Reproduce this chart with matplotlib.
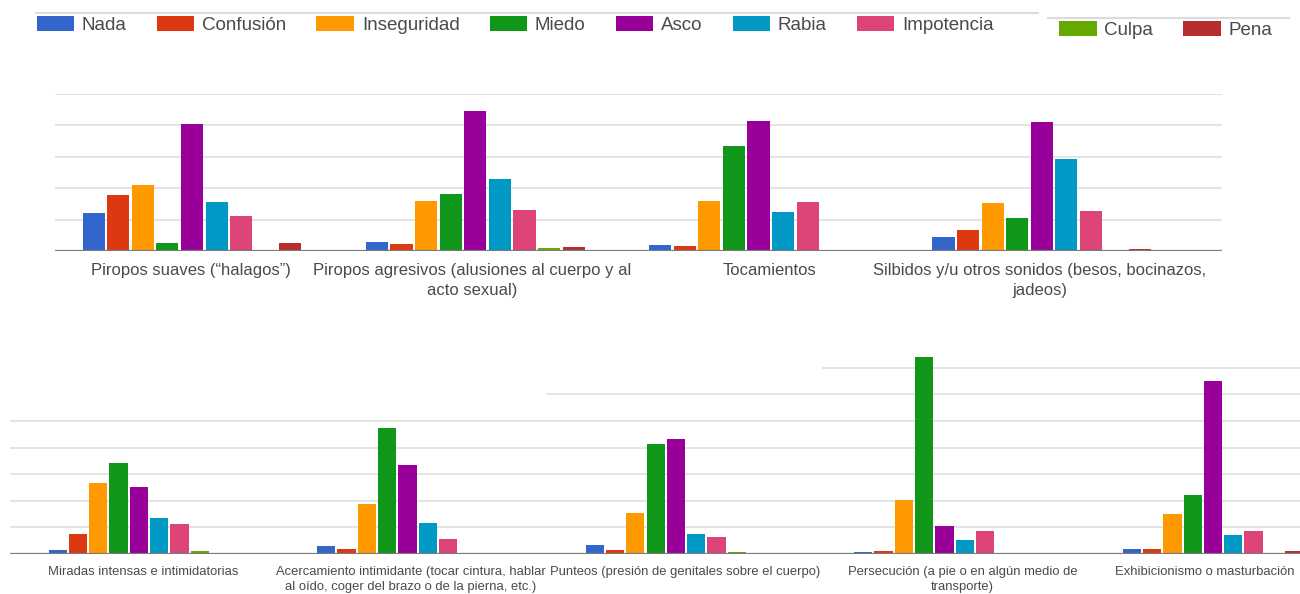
import matplotlib

matplotlib.use("Agg")
import matplotlib.pyplot as plt
import numpy as np
from matplotlib.lines import Line2D
from matplotlib.transforms import ScaledTranslation

plt.rcParams["font.family"] = ["Liberation Sans", "DejaVu Sans"]

emotions = ["Nada", "Confusión", "Inseguridad", "Miedo", "Asco",
            "Rabia", "Impotencia", "Culpa", "Pena"]
colors = ["#3366cc", "#dc3912", "#ff9900", "#109618", "#990099",
          "#0099c6", "#dd4477", "#66aa00", "#b82e2e"]

# Upper panel: verbal / light-contact situations
top_situations = [
    "Piropos suaves (\u201chalagos\u201d)",
    "Piropos agresivos (alusiones al cuerpo y al\nacto sexual)",
    "Tocamientos",
    "Silbidos y/u otros sonidos (besos, bocinazos,\njadeos)",
]
top_nada = [12, 3, 2, 4.5]
top_confusion = [17.7, 2.2, 1.6, 6.8]
top_inseguridad = [21, 16, 16, 15.2]
top_miedo = [2.6, 18, 33.5, 10.6]
top_asco = [40.5, 44.6, 41.5, 41.2]
top_rabia = [15.5, 23, 12.3, 29.2]
top_impotencia = [11, 13, 15.5, 12.6]
top_culpa = [0, 0.8, 0, 0.3]
top_pena = [2.6, 1.2, 0, 0.6]

# Lower panel: intimidation / physical situations
bot_situations = [
    "Miradas intensas e intimidatorias",
    "Acercamiento intimidante (tocar cintura, hablar\nal oído, coger del brazo o de la pierna, etc.)",
    "Punteos (presión de genitales sobre el cuerpo)",
    "Persecución (a pie o en algún medio de\ntransporte)",
    "Exhibicionismo o masturbación",
]
bot_nada = [1.5, 3, 3.4, 0.8, 1.9]
bot_confusion = [7.5, 1.9, 1.5, 1.1, 1.9]
bot_inseguridad = [26.7, 18.8, 15.4, 20.3, 15]
bot_miedo = [34.2, 47.4, 41.4, 74, 22.2]
bot_asco = [25.2, 33.5, 43.2, 10.5, 65]
bot_rabia = [13.5, 11.7, 7.5, 5.3, 7.1]
bot_impotencia = [11.3, 5.6, 6.4, 8.6, 8.6]
bot_culpa = [1.1, 0.4, 0.8, 0, 0]
bot_pena = [0.4, 0.4, 0.4, 0.3, 1.1]

top_series = [top_nada, top_confusion, top_inseguridad, top_miedo, top_asco,
              top_rabia, top_impotencia, top_culpa, top_pena]
bot_series = [bot_nada, bot_confusion, bot_inseguridad, bot_miedo, bot_asco,
              bot_rabia, bot_impotencia, bot_culpa, bot_pena]

W, H = 1300, 594
GRID = "#e4e4e4"
BASE = "#7a7a7a"
TEXT = "#4a4a4a"

fig = plt.figure(figsize=(W / 100, H / 100), dpi=100)


def px_axes(left, top, right, bottom):
    return fig.add_axes([left / W, 1 - bottom / H, (right - left) / W, (bottom - top) / H])


def draw_groups(ax, series, slot):
    n = len(series[0])
    bars = []
    for j, vals in enumerate(series):
        x = np.arange(n) + (j - (len(series) - 1) / 2) * slot
        bars.append(ax.bar(x, vals, width=slot * 0.9, color=colors[j],
                           label=emotions[j], zorder=3, linewidth=0))
    return bars


def clean(ax):
    for s in ax.spines.values():
        s.set_visible(False)
    ax.set_yticks([])
    ax.axhline(0, color=BASE, lw=1.6, zorder=4)


def nudge_labels(ax, shifts_px):
    # small horizontal shifts so long wrapped labels don't run into each other
    for lbl, dx in zip(ax.get_xticklabels(), shifts_px):
        lbl.set_transform(lbl.get_transform() + ScaledTranslation(dx / 100, 0, fig.dpi_scale_trans))


# upper chart
ax_top = px_axes(55, 94, 1222, 251)
handles = draw_groups(ax_top, top_series, 0.0868)
ax_top.set_xlim(-0.4836, 3.636)
ax_top.set_ylim(0, 50)
clean(ax_top)
for lvl in range(10, 51, 10):
    ax_top.axhline(lvl, color=GRID, lw=1.4, zorder=1)
ax_top.set_xticks(range(len(top_situations)), top_situations,
                  fontsize=12, color=TEXT, linespacing=1.45)
ax_top.tick_params(axis="x", length=0, pad=8.5)
nudge_labels(ax_top, [-1, -3, 11, -2])

# lower chart
ax_bot = px_axes(10, 554 - 75 * 2.66, 1300, 554)
draw_groups(ax_bot, bot_series, 0.0756)
ax_bot.set_xlim(-0.48, 4.324)
ax_bot.set_ylim(0, 75)
clean(ax_bot)
for lvl in range(10, 51, 10):
    ax_bot.axhline(lvl, color=GRID, lw=1.4, zorder=1)
ax_bot.axhline(60, xmin=(547 - 10) / 1290, color=GRID, lw=1.4, zorder=1)
ax_bot.axhline(70, xmin=(823 - 10) / 1290, color=GRID, lw=1.4, zorder=1)
ax_bot.set_xticks(range(len(bot_situations)), bot_situations,
                  fontsize=9.4, color=TEXT, linespacing=1.4)
ax_bot.tick_params(axis="x", length=0, pad=8.5)
nudge_labels(ax_bot, [4, 3, 9, 18, -8])

# legends across the top
leg_kw = dict(frameon=False, fontsize=13.5, handlelength=2.0, handleheight=0.85,
              handletextpad=0.42, columnspacing=1.6, borderpad=0,
              borderaxespad=0, labelcolor=TEXT, loc="center left")
fig.legend(handles[:7], emotions[:7], ncol=7,
           bbox_to_anchor=(36.5 / W, 1 - 25 / H), **leg_kw)
fig.legend(handles[7:], emotions[7:], ncol=2,
           bbox_to_anchor=(1059 / W, 1 - 30 / H), **leg_kw)
fig.add_artist(Line2D([36 / W, 1038 / W], [1 - 13 / H] * 2, color="#dcdcdc", lw=1.5))
fig.add_artist(Line2D([1048 / W, 1289 / W], [1 - 18 / H] * 2, color="#dcdcdc", lw=1.5))

fig.savefig("out.png", dpi=100)
plt.close(fig)
